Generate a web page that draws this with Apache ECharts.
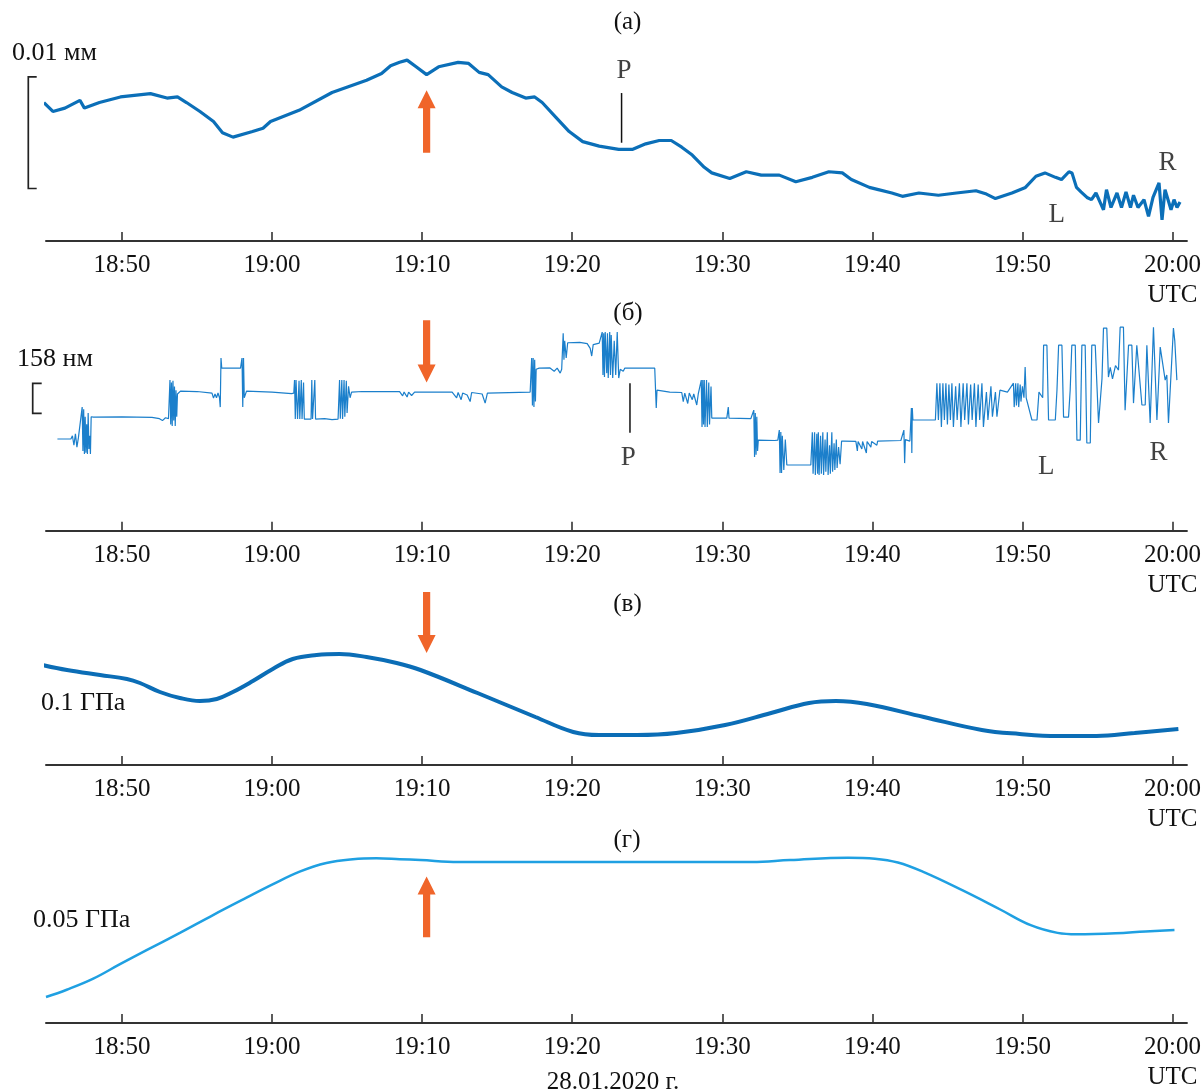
<!DOCTYPE html>
<html>
<head>
<meta charset="utf-8">
<script src="https://cdn.jsdelivr.net/npm/echarts@6/dist/echarts.min.js"></script>
<style>
html,body{margin:0;padding:0;background:#fff;}
#chart{width:1204px;height:1092px;}
</style>
</head>
<body>
<div id="chart"></div>
<script>
// ---------- time axis (minutes after 18:00) ----------
const X_MIN = 44.94, X_MAX = 120.96;
const tickMinutes = [50, 60, 70, 80, 90, 100, 110, 120];
const tickLabels = ['18:50', '19:00', '19:10', '19:20', '19:30', '19:40', '19:50', '20:00'];
const unitLabel = 'UTC';
const dateLabel = '28.01.2020 г.';
const panelTitles = ['(а)', '(б)', '(в)', '(г)'];
const scaleTexts = ['0.01 мм', '158 нм', '0.1 ГПа', '0.05 ГПа'];

// ---------- (а) displacement, µm ----------
const dispA = [
[44.8,12.4],[45.4,11.6],[46.2,11.9],[47.2,12.6],[47.5,11.9],[48.5,12.4],[49.9,12.9],[51.9,13.2],[53.0,12.8],[53.7,12.9],[54.3,12.4],[55.2,11.6],[56.1,10.7],[56.7,9.7],[57.4,9.3],[58.7,9.8],[59.4,10.1],[59.9,10.7],[61.8,11.7],[64.0,13.3],[66.3,14.4],[67.3,15.0],[67.9,15.7],[68.5,16.0],[69.0,16.2],[69.6,15.6],[70.3,14.9],[71.1,15.6],[72.4,16.0],[73.1,15.9],[73.8,15.1],[74.4,14.9],[75.3,13.8],[76.0,13.3],[76.9,12.8],[77.5,12.9],[78.0,12.4],[78.9,11.1],[79.8,9.8],[80.7,8.9],[81.8,8.5],[83.1,8.2],[84.0,8.2],[84.9,8.7],[85.8,9.0],[86.6,9.0],[87.3,8.4],[88.0,7.7],[88.8,6.6],[89.3,6.1],[90.5,5.6],[91.6,6.2],[92.6,5.9],[93.8,5.9],[94.9,5.3],[96.0,5.7],[97.1,6.2],[98.0,6.1],[98.6,5.5],[99.8,4.8],[100.4,4.6],[101.3,4.3],[102.0,4.0],[103.1,4.3],[104.4,4.1],[105.6,4.3],[106.9,4.5],[107.6,4.2],[108.2,3.8],[109.3,4.3],[110.2,4.8],[110.9,5.8],[111.5,6.1],[112.2,5.7],[112.6,5.5],[113.1,6.2],[113.3,6.1],[113.6,4.8],[113.9,4.4],[114.3,3.9],[114.6,3.7],[114.9,4.3],[115.2,3.4],[115.4,2.8],[115.6,4.6],[115.9,3.0],[116.3,4.3],[116.6,3.0],[116.9,4.4],[117.2,3.0],[117.4,4.1],[117.7,3.0],[118.1,3.7],[118.4,2.2],[118.7,3.9],[119.1,5.2],[119.3,1.9],[119.5,4.6],[119.9,2.8],[120.1,3.7],[120.3,3.0],[120.5,3.5]
];
const scaleBarA = [4.7, 14.7];          // 10 µm = 0.01 mm
const arrowA = [70.3, 7.9, 13.5];        // time, base, tip
const pLineA = [83.29, 8.8, 13.25];
const textsA = [['P', 83.45, 15.25], ['L', 112.28, 2.3], ['R', 119.66, 6.95]];

// ---------- (б) interferometer, nm ----------
const dispB = [
[45.7,483],[46.6,483],
[46.7,500],[46.8,450],[46.9,510],[47.0,440],[47.1,490],[47.2,483],
[47.35,651],[47.4,420],[47.45,640],[47.5,404],[47.55,600],[47.6,410],[47.65,560],[47.7,404],[47.75,620],[47.8,430],[47.85,500],[47.9,404],[47.95,600],
[48.1,598],[50.0,600],[52.0,597],[52.5,590],[52.7,580],[52.9,595],[53.1,590],
[53.2,793],[53.25,560],[53.3,780],[53.35,551],[53.4,790],[53.45,580],[53.5,760],[53.55,551],[53.6,740],[53.65,600],[53.7,720],
[53.9,735],[55.0,733],[56.0,725],
[56.1,698],[56.2,720],[56.3,700],[56.4,725],[56.5,700],
[56.55,651],[56.6,909],[56.65,856],[57.9,856],
[58.0,909],[58.05,651],[58.1,909],[58.15,700],
[58.3,735],[60.0,730],[61.3,722],
[61.45,725],[61.5,793],[61.55,588],[61.6,793],[61.7,588],[61.8,790],[61.85,588],[61.95,793],[62.0,588],[62.1,780],[62.15,588],[62.6,588],[62.65,793],[62.7,588],[62.85,793],[62.9,588],[63.5,590],[64.0,585],[64.4,588],[64.5,793],[64.55,590],[64.65,793],[64.7,588],[64.8,793],[64.85,600],[64.95,790],[65.0,620],[65.1,760],[65.2,700],[65.3,730],
[66.0,733],[68.5,732],[68.7,710],[68.8,730],[69.0,704],[69.1,730],[69.3,712],[69.5,730],[72.0,730],[72.3,700],[72.4,728],[72.6,690],[72.7,725],[73.0,715],[73.2,680],[73.3,728],[74.0,720],[74.2,672],[74.35,725],[77.2,730],
[77.3,909],[77.35,660],[77.4,909],[77.45,651],[77.5,900],[77.55,680],[77.6,850],
[77.8,856],[78.5,858],[78.8,840],[79.0,856],[79.2,830],[79.3,850],
[79.4,1040],[79.45,900],[79.5,1000],[79.6,910],[79.7,990],[79.8,988],[80.5,992],[81.0,985],[81.2,960],[81.3,920],[81.4,980],[81.8,988],
[82.0,1046],[82.05,820],[82.1,1040],[82.15,810],[82.2,1046],[82.3,830],[82.35,1040],[82.4,804],[82.5,1046],[82.55,820],[82.6,1030],[82.7,804],[82.8,1000],[82.9,820],[83.0,1046],[83.1,804],
[83.2,850],[83.4,840],[83.5,856],[85.5,856],
[85.6,646],[85.65,740],
[86.5,730],[87.3,728],[87.4,680],[87.5,725],[87.7,670],[87.8,725],[88.0,690],[88.1,720],[88.3,662],[88.4,720],
[88.6,793],[88.65,546],[88.7,793],[88.75,560],[88.8,793],[88.85,546],[88.95,793],[89.0,546],[89.1,780],[89.15,560],[89.25,760],[89.3,593],
[90.3,593],[90.4,651],[90.45,593],[91.9,590],
[92.1,635],[92.15,388],[92.2,620],[92.25,400],[92.3,600],[92.35,420],[92.4,477],
[93.5,475],[93.7,477],
[93.8,530],[93.85,304],[93.9,520],[93.95,304],[94.0,500],[94.1,320],[94.2,480],[94.3,346],
[94.5,346],[95.9,346],
[96.0,519],[96.05,300],[96.15,519],[96.2,293],[96.3,510],[96.35,300],[96.4,519],[96.45,293],[96.55,500],[96.6,300],[96.7,519],[96.75,293],[96.85,480],[96.9,310],[97.0,519],[97.05,293],[97.15,450],[97.2,300],[97.3,519],[97.35,310],[97.45,460],[97.5,320],[97.6,480],[97.65,330],[97.75,440],[97.85,350],[97.95,472],
[98.1,472],[98.9,470],[99.0,420],[99.05,470],[99.3,430],[99.35,470],[99.6,409],[99.65,470],[99.9,440],[99.95,470],[100.3,450],[100.35,472],[101.9,475],
[102.0,472],[102.1,530],[102.15,356],[102.2,480],[102.5,472],[102.6,646],[102.63,409],[102.66,646],[102.7,583],
[104.2,583],
[104.3,777],[104.4,583],[104.5,777],[104.6,546],[104.7,777],[104.8,583],[104.9,777],[105.0,560],[105.1,770],[105.2,583],[105.3,777],[105.4,546],[105.55,760],[105.65,583],[105.8,777],[105.9,546],[106.05,777],[106.15,583],[106.3,777],[106.4,560],[106.55,770],[106.65,583],[106.8,777],[106.9,546],[107.05,770],[107.15,583],[107.3,777],[107.4,546],[107.6,730],[107.7,583],[107.9,760],[108.0,600],[108.2,730],[108.3,600],[108.5,740],[108.6,730],
[109.0,730],[109.4,777],[109.45,651],[109.55,777],[109.6,660],[109.7,777],[109.75,651],[109.85,770],[109.9,680],[110.0,760],[110.1,700],
[110.18,862],[110.25,700],[110.63,583],[110.97,583],[111.1,730],[111.35,700],
[111.41,977],[111.63,977],[111.74,583],[112.19,583],[112.3,740],
[112.41,977],[112.63,977],[112.74,598],[113.07,598],[113.18,740],
[113.29,977],[113.52,977],[113.63,477],[113.85,477],
[113.96,977],[114.18,977],[114.29,462],[114.52,462],
[114.62,977],[114.85,977],[115.07,567],[115.18,567],[115.3,800],
[115.40,1067],[115.62,1067],[115.73,809],[115.85,860],[116.0,800],[116.2,870],[116.4,846],
[116.51,1072],[116.73,1072],[116.84,635],[116.95,635],
[117.07,977],[117.29,977],[117.40,672],[117.51,672],
[117.62,977],[117.73,977],[117.96,662],[118.18,662],
[118.29,977],[118.4,977],[118.51,567],[118.62,567],
[118.73,1072],[118.84,1072],[118.96,583],[119.06,583],
[119.18,967],[119.29,967],[119.51,793],[119.62,820],[119.73,567],[119.84,567],
[120.06,1067],[120.15,1000],[120.29,793]
];
const scaleBarB = [618, 776];            // 158 nm
const arrowB = [70.3, 1109, 780];
const pLineB = [83.85, 776, 516];
const textsB = [['P', 83.73, 381], ['L', 111.58, 335], ['R', 119.06, 409]];

// ---------- (в) pressure, relative units ----------
const pressV = [
[44.41,1.01],[46.34,0.95],[48.54,0.90],[50.33,0.86],[51.20,0.82],[52.53,0.73],[53.86,0.67],[55.19,0.64],[56.32,0.66],[57.39,0.73],[58.72,0.84],[60.05,0.96],[61.38,1.06],[62.97,1.10],[64.50,1.11],[66.30,1.08],[68.30,1.02],[69.89,0.95],[73.69,0.72],[77.55,0.48],[80.07,0.33],[81.80,0.30],[84.33,0.30],[86.93,0.32],[90.19,0.40],[93.25,0.52],[95.78,0.62],[97.57,0.64],[99.63,0.61],[103.43,0.48],[107.29,0.35],[109.81,0.31],[112.34,0.29],[114.94,0.29],[117.47,0.32],[120.39,0.36]
];
const arrowV = [70.3, 1.73, 1.12];

// ---------- (г) pressure, relative units ----------
const pressG = [
[44.94,0.27],[46.32,0.345],[48.09,0.46],[49.87,0.61],[51.64,0.755],[53.86,0.935],[56.07,1.12],[58.30,1.30],[60.07,1.44],[61.84,1.57],[63.62,1.66],[65.39,1.70],[66.95,1.71],[68.50,1.70],[69.89,1.69],[72.42,1.67],[81.80,1.67],[91.98,1.67],[94.51,1.69],[98.37,1.715],[100.17,1.705],[101.70,1.665],[103.43,1.565],[106.02,1.375],[108.55,1.175],[110.55,1.015],[112.34,0.935],[113.61,0.92],[116.20,0.93],[118.20,0.95],[120.13,0.965]
];
const arrowG = [70.3, 0.89, 1.52];

// ---------- chart ----------
const FONT = 'Liberation Serif';
const TXT = '#111111';
const AXIS = '#333333';
const ORANGE = '#f0652a';

const chart = echarts.init(document.getElementById('chart'), null, {renderer: 'canvas'});

const grids = [
  {left: 46, right: 16, top: 40, height: 201},
  {left: 46, right: 16, top: 312.35, height: 218.35},
  {left: 46, right: 16, top: 590, height: 175},
  {left: 46, right: 16, top: 849.5, height: 180}
];
const yRanges = [[0, 18], [0, 1150], [0, 1.75], [0, 1.8]];

function fmtTick(v) {
  const i = tickMinutes.indexOf(Math.round(v));
  if (i < 0) return '';
  return tickLabels[i] + (i === tickMinutes.length - 1 ? '\n' + unitLabel : '');
}

const xAxes = grids.map((g, i) => ({
  type: 'value', gridIndex: i, min: X_MIN, max: X_MAX,
  axisLine: {show: true, onZero: false, lineStyle: {color: AXIS, width: 2}},
  axisTick: {show: true, inside: true, length: 9, customValues: tickMinutes, lineStyle: {color: AXIS, width: 1.6}},
  axisLabel: {show: true, customValues: tickMinutes, formatter: fmtTick, fontFamily: FONT, fontSize: 25,
    color: TXT, margin: 10, lineHeight: 29.5},
  splitLine: {show: false}
}));
const yAxes = grids.map((g, i) => ({
  type: 'value', gridIndex: i, min: yRanges[i][0], max: yRanges[i][1], show: false, splitLine: {show: false}
}));

function arrowSeries(idx, arr) {
  return {
    type: 'custom', xAxisIndex: idx, yAxisIndex: idx, silent: true, clip: false, z: 5,
    data: [arr],
    renderItem: function (params, api) {
      const p0 = api.coord([api.value(0), api.value(1)]);
      const p1 = api.coord([api.value(0), api.value(2)]);
      const dir = p1[1] < p0[1] ? -1 : 1;
      const hw = 3.6, hh = 9, hl = 18, x = p0[0];
      const neck = p1[1] - dir * hl;
      return {
        type: 'polygon',
        shape: {points: [[x - hw, p0[1]], [x - hw, neck], [x - hh, neck], [x, p1[1]], [x + hh, neck], [x + hw, neck], [x + hw, p0[1]]]},
        style: {fill: ORANGE}
      };
    }
  };
}
function vLineSeries(idx, arr) {
  return {
    type: 'custom', xAxisIndex: idx, yAxisIndex: idx, silent: true, clip: false,
    data: [arr],
    renderItem: function (params, api) {
      const p0 = api.coord([api.value(0), api.value(1)]);
      const p1 = api.coord([api.value(0), api.value(2)]);
      return {type: 'line', shape: {x1: p0[0], y1: p0[1], x2: p1[0], y2: p1[1]}, style: {stroke: '#111', lineWidth: 1.5}};
    }
  };
}
function bracketSeries(idx, arr, offset, tick) {
  return {
    type: 'custom', xAxisIndex: idx, yAxisIndex: idx, silent: true, clip: false,
    data: [arr],
    renderItem: function (params, api) {
      const a = api.coord([X_MIN, api.value(0)]);
      const b = api.coord([X_MIN, api.value(1)]);
      const x = a[0] - offset;
      return {type: 'polyline', shape: {points: [[x + tick, a[1]], [x, a[1]], [x, b[1]], [x + tick, b[1]]]},
        style: {stroke: '#222', lineWidth: 1.7, fill: null}};
    }
  };
}
function textSeries(idx, arr) {
  return {
    type: 'scatter', xAxisIndex: idx, yAxisIndex: idx, silent: true, clip: false,
    symbolSize: 1, itemStyle: {color: 'rgba(0,0,0,0)'},
    data: arr.map(d => ({name: d[0], value: [d[1], d[2]]})),
    label: {show: true, position: 'inside', formatter: '{b}', fontFamily: FONT, fontSize: 27, color: TXT}
  };
}

const series = [
  {type: 'line', xAxisIndex: 0, yAxisIndex: 0, data: dispA, showSymbol: false, clip: false, silent: true,
    lineStyle: {color: '#0b6fb8', width: 3.2}},
  {type: 'line', xAxisIndex: 1, yAxisIndex: 1, data: dispB, showSymbol: false, clip: false, silent: true,
    lineStyle: {color: '#1b7fcb', width: 1.2}},
  {type: 'line', xAxisIndex: 2, yAxisIndex: 2, data: pressV, showSymbol: false, clip: false, silent: true, smooth: 0.4,
    lineStyle: {color: '#0b6db6', width: 4}},
  {type: 'line', xAxisIndex: 3, yAxisIndex: 3, data: pressG, showSymbol: false, clip: false, silent: true, smooth: 0.4,
    lineStyle: {color: '#1fa0e2', width: 2.5}},
  arrowSeries(0, arrowA), arrowSeries(1, arrowB), arrowSeries(2, arrowV), arrowSeries(3, arrowG),
  vLineSeries(0, pLineA), vLineSeries(1, pLineB),
  bracketSeries(0, scaleBarA, 17.7, 8.4), bracketSeries(1, scaleBarB, 13.3, 9),
  textSeries(0, textsA), textSeries(1, textsB)
];

function gText(text, x, y, align, size) {
  return {type: 'text', x: x, y: y, silent: true,
    style: {text: text, font: (size || 25) + 'px "' + FONT + '"', fill: TXT, textAlign: align, textVerticalAlign: 'middle'}};
}
const graphics = [
  gText(panelTitles[0], 627.5, 22.5, 'center'),
  gText(panelTitles[1], 628, 313.5, 'center'),
  gText(panelTitles[2], 627.5, 604, 'center'),
  gText(panelTitles[3], 627, 840, 'center'),
  gText(scaleTexts[0], 12, 53, 'left', 26),
  gText(scaleTexts[1], 17, 359.5, 'left', 26),
  gText(scaleTexts[2], 41, 703, 'left', 26),
  gText(scaleTexts[3], 33, 920, 'left', 26),
  gText(dateLabel, 613, 1082, 'center')
];

chart.setOption({
  animation: false,
  backgroundColor: '#ffffff',
  grid: grids,
  xAxis: xAxes,
  yAxis: yAxes,
  series: series,
  graphic: graphics
});
</script>
</body>
</html>
